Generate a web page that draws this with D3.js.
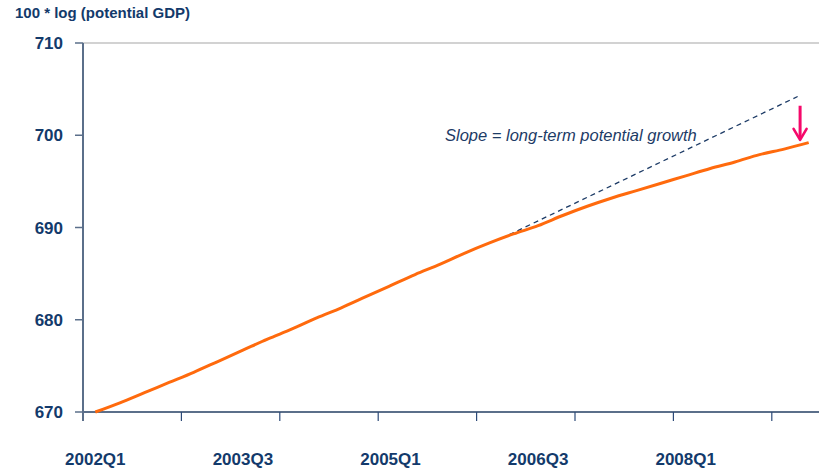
<!DOCTYPE html>
<html>
  <head>
    <meta charset="utf-8">
    <title>Potential GDP</title>
    <script src="https://d3js.org/d3.v7.min.js"></script>
    <style>
      body { margin: 0; background: #fff; }
      svg { display: block; font-family: "Liberation Sans", Arial, sans-serif; }
      .lbl { fill: #133a6b; font-weight: bold; }
    </style>
  </head>
  <body>
    <div id="chart"></div>
    <script>
      // quarters 2002Q1 .. 2009Q2
      var quarters = [];
      for (var yr = 2002; yr <= 2009; yr++) {
        for (var q = 1; q <= 4; q++) {
          if (yr == 2009 && q > 2) break;
          quarters.push(yr + "Q" + q);
        }
      }
      // 100 * log(potential GDP)
      var potential = [670.0, 671.0, 672.1, 673.2, 674.3, 675.5, 676.7, 677.9, 679.0, 680.2,
                       681.3, 682.5, 683.7, 684.9, 686.0, 687.2, 688.3, 689.3, 690.2, 691.3,
                       692.3, 693.2, 694.0, 694.8, 695.6, 696.4, 697.1, 697.9, 698.5, 699.2];
      var yTicks = [670, 680, 690, 700, 710];
      var xLabels = ["2002Q1", "2003Q3", "2005Q1", "2006Q3", "2008Q1"];
      // old trend (index in quarters, value)
      var trendLine = [[16.5, 688.8], [28.55, 704.2]];
      var arrowPos = {q: 28.65, from: 703.2, to: 699.5};

      var W = 819, H = 471;
      var svg = d3.select("#chart").append("svg")
        .attr("width", W)
        .attr("height", H);

      // scales
      var x = d3.scaleLinear().domain([0, quarters.length]).range([83, 821]);
      var y = d3.scaleLinear().domain([670, 710]).range([412, 43]);
      var xc = function(i) { return x(i + 0.5); };

      // top gridline
      svg.append("line")
        .attr("x1", x(0)).attr("x2", W)
        .attr("y1", y(710)).attr("y2", y(710))
        .attr("stroke", "#a6a6a6")
        .attr("stroke-width", 1.2);

      // y axis
      var axisCol = "#5b6f8a";
      svg.append("line")
        .attr("x1", x(0)).attr("x2", x(0))
        .attr("y1", y(710)).attr("y2", y(670) + 9)
        .attr("stroke", axisCol).attr("stroke-width", 2);
      svg.selectAll(".ytick")
        .data(yTicks)
        .enter().append("line")
          .attr("x1", x(0) - 8).attr("x2", x(0))
          .attr("y1", function(d) { return y(d); })
          .attr("y2", function(d) { return y(d); })
          .attr("stroke", axisCol).attr("stroke-width", 1.5);
      svg.selectAll(".ylab")
        .data(yTicks)
        .enter().append("text")
          .attr("class", "lbl")
          .attr("x", 63)
          .attr("y", function(d) { return y(d) + 6; })
          .attr("text-anchor", "end")
          .style("font-size", "17px")
          .text(function(d) { return d; });

      // x axis
      svg.append("line")
        .attr("x1", x(0)).attr("x2", W)
        .attr("y1", y(670)).attr("y2", y(670))
        .attr("stroke", axisCol).attr("stroke-width", 2.2);
      svg.selectAll(".xtick")
        .data(d3.range(4, quarters.length, 4))
        .enter().append("line")
          .attr("x1", function(d) { return x(d); })
          .attr("x2", function(d) { return x(d); })
          .attr("y1", y(670)).attr("y2", y(670) + 9)
          .attr("stroke", "#2c4a78").attr("stroke-width", 1.2);
      svg.selectAll(".xlab")
        .data(xLabels)
        .enter().append("text")
          .attr("class", "lbl")
          .attr("x", function(d) { return xc(quarters.indexOf(d)); })
          .attr("y", 465)
          .attr("text-anchor", "middle")
          .style("font-size", "17px")
          .text(function(d) { return d; });

      // title
      svg.append("text")
        .attr("class", "lbl")
        .attr("x", 15).attr("y", 18)
        .style("font-size", "15px")
        .text("100 * log (potential GDP)");

      // dashed trend
      svg.append("path")
        .datum(trendLine)
        .attr("d", d3.line().x(function(d) { return xc(d[0]); }).y(function(d) { return y(d[1]); }))
        .attr("fill", "none")
        .attr("stroke", "#1d3b66")
        .attr("stroke-width", 1.3)
        .attr("stroke-dasharray", "5,4");

      // potential GDP line
      svg.append("path")
        .datum(potential)
        .attr("d", d3.line()
          .x(function(d, i) { return xc(i); })
          .y(function(d) { return y(d); })
          .curve(d3.curveMonotoneX))
        .attr("fill", "none")
        .attr("stroke", "#ff6a0d")
        .attr("stroke-width", 3)
        .attr("stroke-linejoin", "round");

      // annotation
      svg.append("text")
        .attr("x", 445).attr("y", 141)
        .attr("fill", "#1d3b66")
        .style("font-size", "16.5px")
        .style("font-style", "italic")
        .text("Slope = long-term potential growth");

      // arrow
      var ax = xc(arrowPos.q), ay0 = y(arrowPos.from), ay1 = y(arrowPos.to);
      svg.append("line")
        .attr("x1", ax).attr("x2", ax)
        .attr("y1", ay0).attr("y2", ay1 - 2)
        .attr("stroke", "#f5086a").attr("stroke-width", 3);
      svg.append("path")
        .attr("d", "M" + (ax - 6.5) + "," + (ay1 - 11) + " L" + ax + "," + ay1 + " L" + (ax + 6.5) + "," + (ay1 - 11))
        .attr("fill", "none")
        .attr("stroke", "#f5086a").attr("stroke-width", 2.6)
        .attr("stroke-linecap", "round").attr("stroke-linejoin", "round");
    </script>
  </body>
</html>
